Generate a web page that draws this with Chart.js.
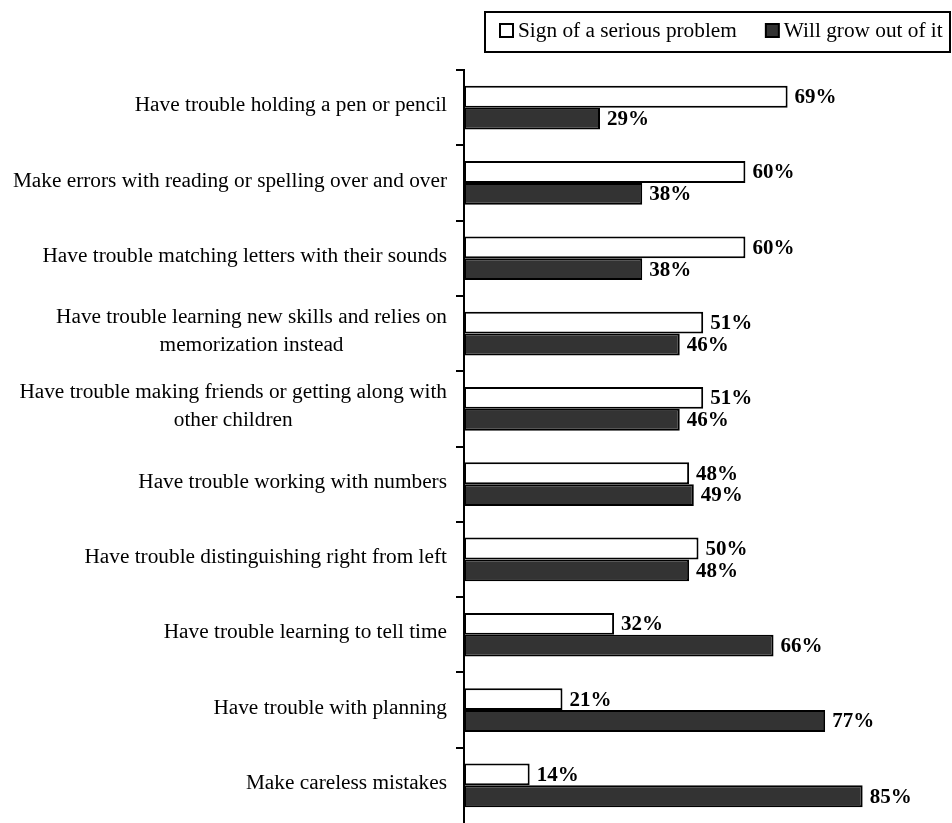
<!DOCTYPE html>
<html>
<head>
<meta charset="utf-8">
<script src="https://cdn.jsdelivr.net/npm/chart.js@4.4.0/dist/chart.umd.min.js"></script>
<style>
  html, body { margin: 0; padding: 0; background: #fff; }
  #wrap { width: 952px; height: 823px; }
</style>
</head>
<body>
<div id="wrap"><canvas id="chart" width="952" height="823"></canvas></div>
<script>
const categories = [
    'Have trouble holding a pen or pencil',
    'Make errors with reading or spelling over and over',
    'Have trouble matching letters with their sounds',
    ['Have trouble learning new skills and relies on', 'memorization instead'],
    ['Have trouble making friends or getting along with', 'other children'],
    'Have trouble working with numbers',
    'Have trouble distinguishing right from left',
    'Have trouble learning to tell time',
    'Have trouble with planning',
    'Make careless mistakes'
];
const seriesNames = ['Sign of a serious problem', 'Will grow out of it'];
const seriousProblem = [69, 60, 60, 51, 51, 48, 50, 32, 21, 14];
const growOutOfIt = [29, 38, 38, 46, 46, 49, 48, 66, 77, 85];

const serif = '"Liberation Serif", "Times New Roman", serif';
Chart.defaults.font.family = serif;

const AXIS_X = 464;

// category labels, right aligned as a block, lines centred inside it
const categoryLabels = {
    id: 'categoryLabels',
    afterDraw(chart) {
        const ctx = chart.ctx;
        const y = chart.scales.y;
        ctx.save();
        ctx.font = '21.3px ' + serif;
        ctx.fillStyle = '#000';
        ctx.textAlign = 'center';
        ctx.textBaseline = 'middle';
        categories.forEach((cat, i) => {
            const lines = Array.isArray(cat) ? cat : [cat];
            const w = Math.max(...lines.map(l => ctx.measureText(l).width));
            const cx = 447 - w / 2;
            const lh = 28;
            const cy = y.getPixelForValue(i) - (lines.length - 1) * lh / 2 - 2;
            lines.forEach((l, j) => ctx.fillText(l, cx, cy + j * lh));
        });
        ctx.restore();
    }
};

// value labels at the end of each bar
const valueLabels = {
    id: 'valueLabels',
    afterDatasetsDraw(chart) {
        const ctx = chart.ctx;
        ctx.save();
        ctx.font = 'bold 21px ' + serif;
        ctx.fillStyle = '#000';
        ctx.textAlign = 'left';
        ctx.textBaseline = 'middle';
        chart.data.datasets.forEach((ds, di) => {
            chart.getDatasetMeta(di).data.forEach((bar, i) => {
                ctx.fillText(ds.data[i] + '%', bar.x + 7, bar.y + 1);
            });
        });
        ctx.restore();
    }
};

// boxed legend in the top right corner
const boxLegend = {
    id: 'boxLegend',
    afterDraw(chart) {
        const ctx = chart.ctx;
        ctx.save();
        ctx.lineWidth = 2;
        ctx.strokeStyle = '#000';
        ctx.strokeRect(485, 12, 465, 40);
        ctx.font = '21.3px ' + serif;
        ctx.textBaseline = 'middle';
        ctx.textAlign = 'left';
        let x = 500;
        chart.data.datasets.forEach(ds => {
            ctx.fillStyle = ds.backgroundColor;
            ctx.fillRect(x, 24, 13, 13);
            ctx.strokeRect(x, 24, 13, 13);
            ctx.fillStyle = '#000';
            ctx.fillText(ds.label, x + 18, 31);
            x += 18 + ctx.measureText(ds.label).width + 29;
        });
        ctx.restore();
    }
};

new Chart(document.getElementById('chart'), {
    type: 'bar',
    data: {
        labels: categories,
        datasets: [
            { label: seriesNames[0], data: seriousProblem, backgroundColor: '#ffffff' },
            { label: seriesNames[1], data: growOutOfIt, backgroundColor: '#333333' }
        ]
    },
    options: {
        indexAxis: 'y',
        responsive: false,
        animation: false,
        layout: { padding: { top: 70, right: 19, bottom: 0, left: 0 } },
        datasets: {
            bar: {
                borderColor: '#000',
                borderWidth: 2,
                borderSkipped: false,
                categoryPercentage: 0.58,
                barPercentage: 1.0
            }
        },
        scales: {
            x: { display: false, min: 0, max: 100 },
            y: {
                grid: {
                    drawOnChartArea: false,
                    drawTicks: true,
                    tickLength: 8,
                    // the bottom tick falls off the picture in the original
                    color: c => c.type === 'tick' ? '#000' : 'rgba(0,0,0,0)',
                    lineWidth: 2,
                    offset: true
                },
                border: { display: true, color: '#000', width: 2 },
                ticks: { display: false },
                afterFit(scale) { scale.width = AXIS_X; }
            }
        },
        plugins: {
            legend: { display: false },
            tooltip: { enabled: false }
        }
    },
    plugins: [categoryLabels, valueLabels, boxLegend]
});
</script>
</body>
</html>
